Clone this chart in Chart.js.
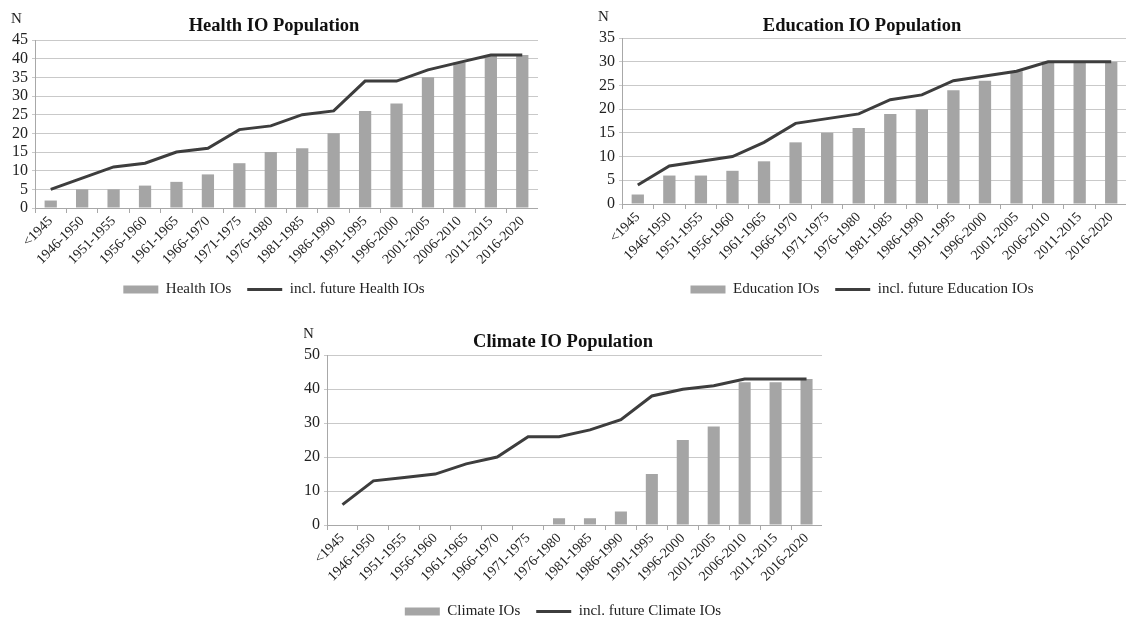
<!DOCTYPE html>
<html>
<head>
<meta charset="utf-8">
<script src="https://cdn.jsdelivr.net/npm/chart.js@4.4.1/dist/chart.umd.min.js"></script>
<style>
  html, body { margin: 0; padding: 0; background: #fff; overflow: hidden; }
  #page { position: relative; width: 1126px; height: 621px; overflow: hidden; }
  .panel { position: absolute; }
</style>
</head>
<body>
<div id="page">
  <div class="panel" style="left:10px;top:0px;width:528px;height:307px;"><canvas id="health"></canvas></div>
  <div class="panel" style="left:597px;top:0px;width:530px;height:307px;"><canvas id="education"></canvas></div>
  <div class="panel" style="left:304px;top:320px;width:518px;height:309px;"><canvas id="climate"></canvas></div>
</div>
<script>
// Five-year periods of IO founding
const categories = ['<1945', '1946-1950', '1951-1955', '1956-1960', '1961-1965', '1966-1970',
  '1971-1975', '1976-1980', '1981-1985', '1986-1990', '1991-1995', '1996-2000',
  '2001-2005', '2006-2010', '2011-2015', '2016-2020'];

// Health IO population (cumulative)
const healthIOs    = [2, 5, 5, 6, 7, 9, 12, 15, 16, 20, 26, 28, 35, 39, 41, 41];
const healthFuture = [5, 8, 11, 12, 15, 16, 21, 22, 25, 26, 34, 34, 37, 39, 41, 41];

// Education IO population (cumulative)
const educationIOs    = [2, 6, 6, 7, 9, 13, 15, 16, 19, 20, 24, 26, 28, 30, 30, 30];
const educationFuture = [4, 8, 9, 10, 13, 17, 18, 19, 22, 23, 26, 27, 28, 30, 30, 30];

// Climate IO population (cumulative)
const climateIOs    = [0, 0, 0, 0, 0, 0, 0, 2, 2, 4, 15, 25, 29, 42, 42, 43];
const climateFuture = [6, 13, 14, 15, 18, 20, 26, 26, 28, 31, 38, 40, 41, 43, 43, 43];

// Y axis ranges
const healthAxis    = { max: 45, step: 5 };
const educationAxis = { max: 35, step: 5 };
const climateAxis   = { max: 50, step: 10 };

const BAR_COLOR  = '#a5a5a5';
const LINE_COLOR = '#3d3d3d';
const GRID_COLOR = '#c9c9c9';
const AXIS_COLOR = '#a8a8a8';
const TEXT_COLOR = '#222222';

Chart.defaults.font.family = '"Liberation Serif", "Times New Roman", serif';
Chart.defaults.color = TEXT_COLOR;

// Draws the "N" caption above the value axis
const unitLabel = {
  id: 'unitLabel',
  afterDraw(chart) {
    const { ctx, chartArea } = chart;
    ctx.save();
    ctx.font = '15px "Liberation Serif", serif';
    ctx.fillStyle = TEXT_COLOR;
    ctx.textAlign = 'center';
    ctx.textBaseline = 'middle';
    ctx.fillText('N', chartArea.left - 18.5, chartArea.top - 21);
    ctx.restore();
  }
};

function makeChart(id, title, barLabel, lineLabel, bars, line, axis, lay) {
  return new Chart(document.getElementById(id), {
    type: 'bar',
    data: {
      labels: categories,
      datasets: [
        {
          type: 'bar',
          label: barLabel,
          data: bars,
          backgroundColor: BAR_COLOR,
          borderWidth: 0,
          barPercentage: 0.39,
          categoryPercentage: 1.0,
          order: 2
        },
        {
          type: 'line',
          label: lineLabel,
          data: line,
          borderColor: LINE_COLOR,
          backgroundColor: LINE_COLOR,
          borderWidth: 3,
          pointRadius: 0,
          tension: 0,
          fill: false,
          order: 1
        }
      ]
    },
    options: {
      responsive: true,
      maintainAspectRatio: false,
      animation: false,
      events: [],
      layout: { padding: 0 },
      scales: {
        x: {
          offset: true,
          grid: {
            offset: true,
            drawOnChartArea: false,
            drawTicks: true,
            tickLength: 5,
            color: AXIS_COLOR
          },
          border: { color: AXIS_COLOR, width: 1 },
          ticks: {
            autoSkip: false,
            minRotation: 45,
            maxRotation: 45,
            padding: 0,
            color: TEXT_COLOR,
            font: { size: 14 }
          },
          afterFit(scale) { scale.height = lay.xHeight; }
        },
        y: {
          min: 0,
          max: axis.max,
          ticks: {
            stepSize: axis.step,
            autoSkip: false,
            padding: 4,
            color: TEXT_COLOR,
            font: { size: 16 }
          },
          grid: { color: GRID_COLOR, tickLength: 3, lineWidth: 1 },
          border: { color: AXIS_COLOR, width: 1 },
          afterFit(scale) { scale.width = lay.yWidth; }
        }
      },
      plugins: {
        title: {
          display: true,
          text: title,
          color: '#111111',
          font: { size: 18.5, weight: 'bold' },
          padding: { top: lay.titleTop, bottom: lay.titleBottom }
        },
        legend: {
          display: true,
          position: 'bottom',
          labels: {
            usePointStyle: true,
            pointStyleWidth: 35,
            boxHeight: 8,
            padding: 16,
            color: TEXT_COLOR,
            font: { size: 15 },
            generateLabels(chart) {
              const items = Chart.defaults.plugins.legend.labels.generateLabels(chart);
              items.forEach(it => {
                const ds = chart.data.datasets[it.datasetIndex];
                if (ds.type === 'line') {
                  it.pointStyle = 'line';
                  it.lineWidth = 3;
                  it.strokeStyle = LINE_COLOR;
                } else {
                  it.pointStyle = 'rect';
                  it.lineWidth = 0;
                  it.fillStyle = BAR_COLOR;
                }
              });
              return items.sort((a, b) => a.datasetIndex - b.datasetIndex);
            }
          }
        },
        tooltip: { enabled: false }
      }
    },
    plugins: [unitLabel]
  });
}

makeChart('health', 'Health IO Population', 'Health IOs', 'incl. future Health IOs',
  healthIOs, healthFuture, healthAxis,
  { yWidth: 25, xHeight: 58, titleTop: 15, titleBottom: 2.8 });

makeChart('education', 'Education IO Population', 'Education IOs', 'incl. future Education IOs',
  educationIOs, educationFuture, educationAxis,
  { yWidth: 25, xHeight: 62, titleTop: 15, titleBottom: 0.8 });

makeChart('climate', 'Climate IO Population', 'Climate IOs', 'incl. future Climate IOs',
  climateIOs, climateFuture, climateAxis,
  { yWidth: 23, xHeight: 63, titleTop: 11.2, titleBottom: 1.8 });
</script>
</body>
</html>
